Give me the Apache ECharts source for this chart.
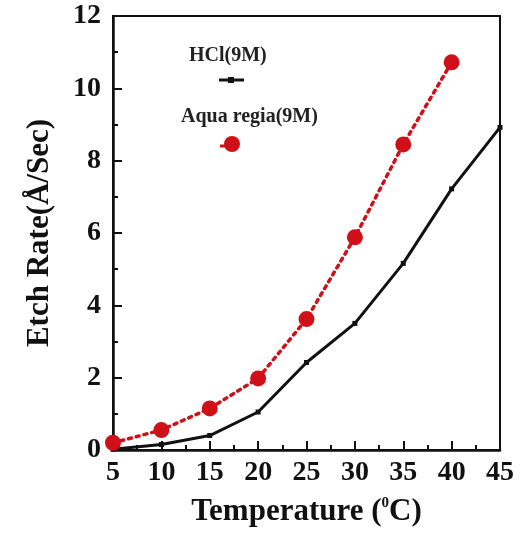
<!DOCTYPE html>
<html>
<head>
<meta charset="utf-8">
<script src="https://cdn.jsdelivr.net/npm/echarts@6/dist/echarts.min.js"></script>
<style>html,body{margin:0;padding:0;background:#fff;}#c{width:523px;height:533px;}</style>
</head>
<body>
<div id="c"></div>
<script>
var temperatures = [5, 10, 15, 20, 25, 30, 35, 40, 45];
var hclRate = [0.02, 0.15, 0.4, 1.05, 2.42, 3.5, 5.16, 7.22, 8.92];
var aquaTemps = [5, 10, 15, 20, 25, 30, 35, 40];
var aquaRate = [0.2, 0.55, 1.15, 1.98, 3.62, 5.88, 8.45, 10.72];
var seriesNames = ['HCl(9M)', 'Aqua regia(9M)'];

var serif = '"Liberation Serif","DejaVu Serif",serif';
var chart = echarts.init(document.getElementById('c'));
chart.setOption({
  backgroundColor: '#fff',
  animation: false,
  grid: { left: 113, right: 23, top: 16, bottom: 83, show: true, borderColor: '#111', borderWidth: 2, backgroundColor: 'transparent' },
  xAxis: {
    type: 'value', min: 5, max: 45, interval: 5,
    name: 'Temperature ({s|0}C)', nameLocation: 'middle', nameGap: 46,
    nameTextStyle: { fontFamily: serif, fontWeight: 'bold', fontSize: 31, color: '#111',
      rich: { s: { fontFamily: serif, fontWeight: 'bold', fontSize: 15, color: '#111', verticalAlign: 'top', padding: [0, 0, 14, 0] } } },
    axisLine: { show: true, lineStyle: { color: '#111', width: 2.5 } },
    axisTick: { show: true, inside: true, length: 9, lineStyle: { color: '#111', width: 2 } },
    minorTick: { show: true, splitNumber: 2, length: 5, lineStyle: { color: '#111', width: 2 } },
    splitLine: { show: false },
    axisLabel: { fontFamily: serif, fontWeight: 'bold', fontSize: 28, color: '#111', margin: 9 }
  },
  yAxis: {
    type: 'value', min: 0, max: 12, interval: 2,
    name: 'Etch Rate(Å/Sec)', nameLocation: 'middle', nameGap: 58,
    nameTextStyle: { fontFamily: serif, fontWeight: 'bold', fontSize: 31, color: '#111' },
    axisLine: { show: true, lineStyle: { color: '#111', width: 2.5 } },
    axisTick: { show: true, inside: true, length: 9, lineStyle: { color: '#111', width: 2 } },
    minorTick: { show: true, splitNumber: 2, length: 5, lineStyle: { color: '#111', width: 2 } },
    splitLine: { show: false },
    axisLabel: { fontFamily: serif, fontWeight: 'bold', fontSize: 28, color: '#111', margin: 12 }
  },
  graphic: [
    { type: 'text', left: 189, top: 46, style: { text: seriesNames[0], fontFamily: serif, fontWeight: 'bold', fontSize: 20, fill: '#222' } },
    { type: 'line', shape: { x1: 219, y1: 80, x2: 244, y2: 80 }, style: { stroke: '#111', lineWidth: 3 } },
    { type: 'rect', shape: { x: 228, y: 77, width: 6, height: 6 }, style: { fill: '#111' } },
    { type: 'text', left: 181, top: 107, style: { text: seriesNames[1], fontFamily: serif, fontWeight: 'bold', fontSize: 20, fill: '#222' } },
    { type: 'line', shape: { x1: 220, y1: 146, x2: 232, y2: 146 }, style: { stroke: '#d01018', lineWidth: 3 } },
    { type: 'circle', shape: { cx: 232, cy: 144, r: 8 }, style: { fill: '#d01018' } }
  ],
  series: [
    {
      name: seriesNames[0], type: 'line',
      data: temperatures.map(function (t, i) { return [t, hclRate[i]]; }),
      symbol: 'rect', symbolSize: 5, showSymbol: true,
      lineStyle: { color: '#111', width: 3 },
      itemStyle: { color: '#111' },
      z: 3
    },
    {
      name: seriesNames[1], type: 'line',
      data: aquaTemps.map(function (t, i) { return [t, aquaRate[i]]; }),
      symbol: 'circle', symbolSize: 16,
      lineStyle: { color: '#d01018', width: 3.5, type: [3, 5], cap: 'round' },
      itemStyle: { color: '#d01018' },
      z: 4
    }
  ]
});
</script>
</body>
</html>
